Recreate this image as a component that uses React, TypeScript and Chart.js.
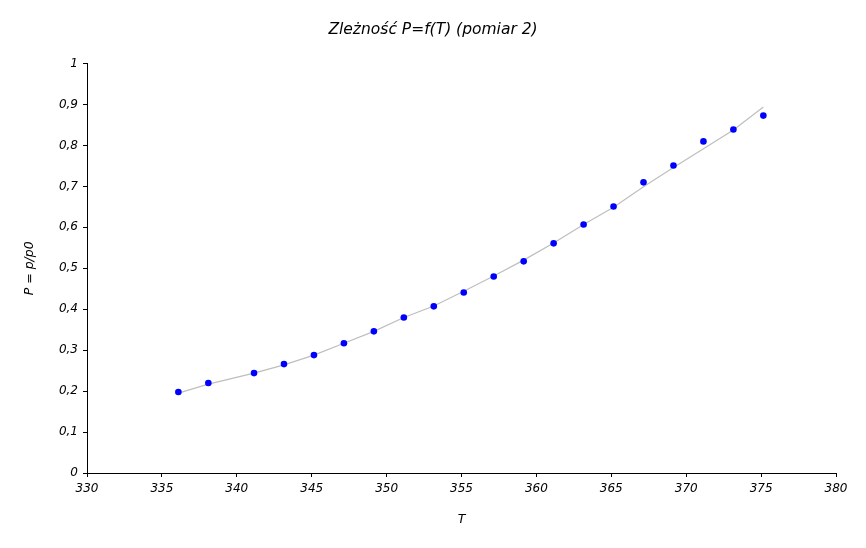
import React, { useEffect, useRef } from "react";
import { Chart, registerables } from "chart.js";

Chart.register(...registerables);

const titleText = "Zleżność P=f(T) (pomiar 2)";
const xTitle = "T";
const yTitle = "P = p/p0";

const pointT = [336.1, 338.1, 341.15, 343.15, 345.15, 347.15, 349.15, 351.15, 353.15, 355.15, 357.15, 359.15, 361.15, 363.15, 365.15, 367.15, 369.15, 371.15, 373.15, 375.15];
const pointP = [0.198, 0.22, 0.244, 0.266, 0.288, 0.317, 0.346, 0.38, 0.407, 0.441, 0.48, 0.517, 0.561, 0.607, 0.651, 0.71, 0.751, 0.81, 0.839, 0.873];

const fitT = [336.1, 338.1, 341.15, 343.15, 345.15, 347.15, 349.15, 351.15, 353.15, 355.15, 357.15, 359.15, 361.15, 363.15, 365.15, 367.15, 369.15, 371.15, 373.15, 375.15];
const fitP = [0.195, 0.217, 0.244, 0.264, 0.288, 0.317, 0.346, 0.38, 0.408, 0.444, 0.481, 0.52, 0.562, 0.607, 0.649, 0.699, 0.746, 0.792, 0.838, 0.894];

const FONT = "'DejaVu Sans', sans-serif";

export default function App() {
  const ref = useRef<HTMLCanvasElement | null>(null);

  useEffect(() => {
    if (!ref.current) return;
    const chart = new Chart(ref.current, {
      type: "scatter",
      data: {
        datasets: [
          {
            label: "pomiar",
            data: pointT.map((t, i) => ({ x: t, y: pointP[i] })),
            backgroundColor: "#0000ff",
            borderColor: "#0000ff",
            pointRadius: 3.3,
            pointBorderWidth: 0,
            showLine: false,
            order: 0,
          },
          {
            label: "fit",
            data: fitT.map((t, i) => ({ x: t, y: fitP[i] })),
            borderColor: "#bebebe",
            borderWidth: 1.2,
            pointRadius: 0,
            showLine: true,
            tension: 0,
            order: 1,
          },
        ],
      },
      options: {
        animation: false,
        responsive: false,
        maintainAspectRatio: false,
        layout: { padding: 0 },
        plugins: {
          legend: { display: false },
          tooltip: { enabled: false },
          title: {
            display: true,
            text: titleText,
            color: "#000",
            font: { family: FONT, size: 15.5, style: "italic", weight: "normal", lineHeight: 1.2 },
            padding: { top: 21, bottom: 24 },
          },
        },
        scales: {
          x: {
            type: "linear",
            min: 330,
            max: 380,
            afterFit: (s: any) => {
              s.height = 75;
            },
            ticks: {
              stepSize: 5,
              color: "#000",
              padding: 5,
              maxRotation: 0,
              font: { family: FONT, size: 12, style: "italic" },
            },
            grid: { drawOnChartArea: false, drawTicks: true, tickLength: 4, color: "#000" },
            border: { display: true, color: "#000", width: 1 },
            title: {
              display: true,
              text: xTitle,
              color: "#000",
              font: { family: FONT, size: 12.5, style: "italic", lineHeight: 1.2 },
              padding: { top: 0, bottom: 21 },
            },
          },
          y: {
            type: "linear",
            min: 0,
            max: 1,
            afterFit: (s: any) => {
              s.width = 87;
            },
            ticks: {
              stepSize: 0.1,
              color: "#000",
              padding: 5,
              font: { family: FONT, size: 12, style: "italic" },
              callback: (v: any) => String(Number(Number(v).toFixed(1))).replace(".", ","),
            },
            grid: { drawOnChartArea: false, drawTicks: true, tickLength: 4, color: "#000" },
            border: { display: true, color: "#000", width: 1 },
            title: {
              display: true,
              text: yTitle,
              color: "#000",
              font: { family: FONT, size: 12.5, style: "italic", lineHeight: 1.2 },
              padding: { top: 22.5, bottom: 0 },
            },
          },
          yRight: {
            type: "linear",
            position: "right",
            min: 0,
            max: 1,
            afterFit: (s: any) => {
              s.width = 30;
            },
            ticks: { display: false },
            grid: { display: false },
            border: { display: false },
            title: { display: false },
          },
        },
      },
    });
    return () => chart.destroy();
  }, []);

  return (
    <div style={{ position: "absolute", left: 0, top: 0, width: 866, height: 548, background: "#fff" }}>
      <canvas ref={ref} width={866} height={548} style={{ width: 866, height: 548, display: "block" }} />
    </div>
  );
}
